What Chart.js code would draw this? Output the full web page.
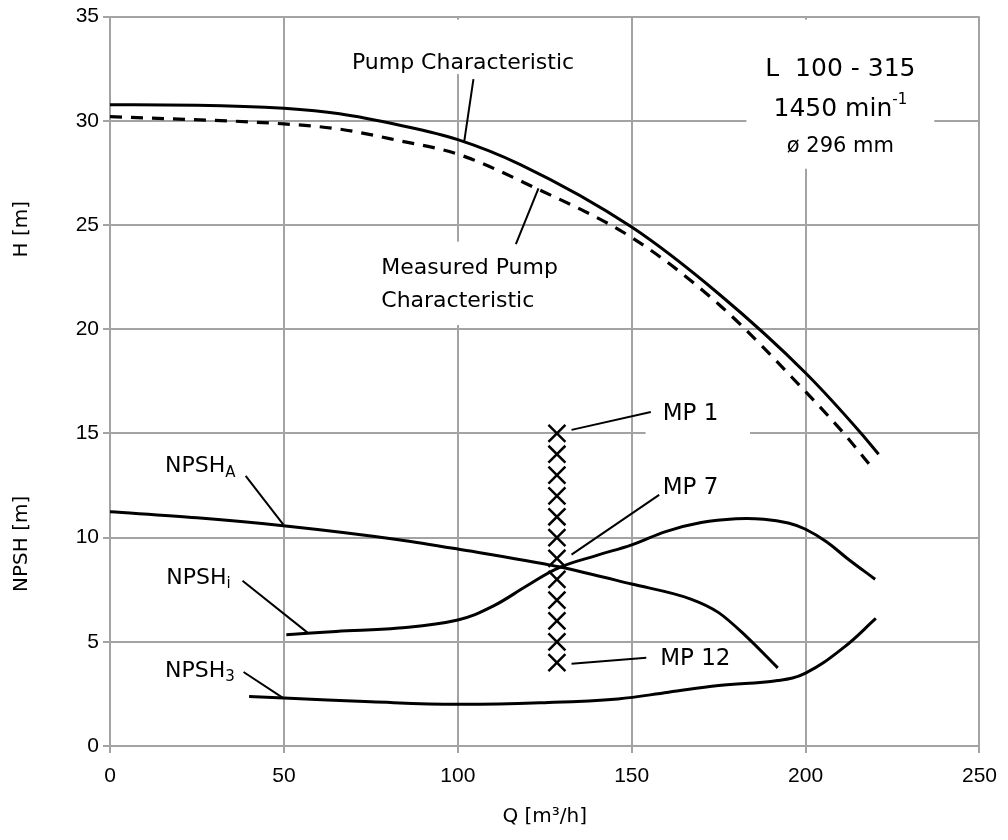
<!DOCTYPE html>
<html>
<head>
<meta charset="utf-8">
<script src="https://cdn.jsdelivr.net/npm/chart.js@4.4.1/dist/chart.umd.min.js"></script>
<style>
  html, body { margin: 0; padding: 0; background: #fff; }
  #wrap { width: 1008px; height: 840px; }
</style>
</head>
<body>
<div id="wrap"><canvas id="c" width="1008" height="840"></canvas></div>
<script>
// values, Q in m3/h, H in m
const qPump = [0, 25, 50, 66, 83, 100, 118, 150, 175, 200, 216, 221];
const hPump = [30.77, 30.75, 30.6, 30.34, 29.8, 29.1, 27.9, 24.9, 21.7, 17.9, 15.0, 14.0];

const qMeasured = [0, 50, 66, 83, 100, 122, 150, 175, 200, 211, 218.4];
const hMeasured = [30.2, 29.85, 29.6, 29.05, 28.4, 26.8, 24.4, 21.2, 17.0, 15.0, 13.5];

const qNpshA = [0, 25, 50.5, 83, 100, 129, 150, 167, 175, 183, 192];
const hNpshA = [11.24, 10.95, 10.56, 9.9, 9.45, 8.6, 7.77, 7.05, 6.4, 5.25, 3.75];

const qNpshI = [50.7, 65, 83, 100, 110, 120, 129, 140, 150, 160, 170, 180, 188, 195, 200, 206, 212, 220];
const hNpshI = [5.34, 5.5, 5.66, 6.05, 6.7, 7.7, 8.55, 9.15, 9.65, 10.3, 10.72, 10.9, 10.88, 10.7, 10.4, 9.8, 9.0, 8.0];

const qNpsh3 = [40, 50, 75, 100, 125, 146, 160.6, 175, 192, 200, 211, 220.2];
const hNpsh3 = [2.37, 2.3, 2.12, 2.0, 2.08, 2.26, 2.58, 2.9, 3.14, 3.5, 4.73, 6.12];

// measuring points MP 1 .. MP 12
const qMp = [128.5, 128.5, 128.5, 128.5, 128.5, 128.5, 128.5, 128.5, 128.5, 128.5, 128.5, 128.5];
const hMp = [15, 14, 13, 12, 11, 10, 9, 8, 7, 6, 5, 4];

const xTicks = [0, 50, 100, 150, 200, 250];
const yTicks = [0, 5, 10, 15, 20, 25, 30, 35];

const FONT = '"DejaVu Sans", "Open Sans", sans-serif';
const TICK_FONT = '"Liberation Sans", Arial, sans-serif';

function pts(xs, ys) {
  return xs.map((x, i) => ({ x: x, y: ys[i] }));
}

// annotation layout, in data units
const whiteBoxes = [
  [183, 34.85, 237, 27.7],
  [67, 34.85, 136, 32.24],
  [77, 24.2, 145, 20.2],
  [154, 16.8, 184, 14.7],
];

const leaders = [
  [104.5, 32.0, 101.8, 28.95],
  [123.2, 26.76, 116.7, 24.08],
  [39, 12.96, 49.9, 10.61],
  [38.1, 7.93, 56.8, 5.44],
  [38.4, 3.55, 49.6, 2.32],
  [155.5, 16.03, 132.7, 15.17],
  [157.9, 12.05, 132.7, 9.18],
  [154.2, 4.24, 132.7, 3.95],
];

const notes = [
  { q: 101.5, h: 32.75, align: 'center', parts: [['Pump Characteristic', 22, 0]] },
  { q: 78, h: 22.93, align: 'left', parts: [['Measured Pump', 22, 0]] },
  { q: 78, h: 21.35, align: 'left', parts: [['Characteristic', 22, 0]] },
  { q: 15.8, h: 13.4, align: 'left', parts: [['NPSH', 22, 0], ['A', 15, 6]] },
  { q: 16.2, h: 8.07, align: 'left', parts: [['NPSH', 22, 0], ['i', 15, 6]] },
  { q: 15.8, h: 3.6, align: 'left', parts: [['NPSH', 22, 0], ['3', 15, 6]] },
  { q: 158.9, h: 15.93, align: 'left', parts: [['MP 1', 23, 0]] },
  { q: 158.9, h: 12.38, align: 'left', parts: [['MP 7', 23, 0]] },
  { q: 158.2, h: 4.19, align: 'left', parts: [['MP 12', 23, 0]] },
  { q: 210, h: 32.46, align: 'center', parts: [['L  100 - 315', 25, 0]] },
  { q: 210, h: 30.55, align: 'center', parts: [['1450 min', 25, 0], ['-1', 15, -9]] },
  { q: 210, h: 28.78, align: 'center', parts: [['\u00f8 296 mm', 21, 0]] },
];

function drawParts(ctx, x, y, parts, align) {
  let w = 0;
  parts.forEach(p => { ctx.font = p[1] + 'px ' + FONT; w += ctx.measureText(p[0]).width; });
  let cx = align === 'center' ? x - w / 2 : x;
  parts.forEach(p => {
    ctx.font = p[1] + 'px ' + FONT;
    ctx.fillText(p[0], cx, y + p[2]);
    cx += ctx.measureText(p[0]).width;
  });
}

const annotationPlugin = {
  id: 'pumpNotes',
  beforeDatasetsDraw(chart) {
    const { ctx, scales: { x, y } } = chart;
    ctx.save();
    ctx.fillStyle = '#fff';
    whiteBoxes.forEach(b => {
      const x1 = x.getPixelForValue(b[0]), y1 = y.getPixelForValue(b[1]);
      const x2 = x.getPixelForValue(b[2]), y2 = y.getPixelForValue(b[3]);
      ctx.fillRect(x1, y1, x2 - x1, y2 - y1);
    });
    ctx.restore();
  },
  afterDatasetsDraw(chart) {
    const { ctx, scales: { x, y } } = chart;
    ctx.save();
    ctx.strokeStyle = '#000';
    ctx.lineWidth = 2;
    leaders.forEach(l => {
      ctx.beginPath();
      ctx.moveTo(x.getPixelForValue(l[0]), y.getPixelForValue(l[1]));
      ctx.lineTo(x.getPixelForValue(l[2]), y.getPixelForValue(l[3]));
      ctx.stroke();
    });
    ctx.fillStyle = '#000';
    ctx.textBaseline = 'middle';
    ctx.textAlign = 'left';
    notes.forEach(n => drawParts(ctx, x.getPixelForValue(n.q), y.getPixelForValue(n.h), n.parts, n.align));
    ctx.restore();
  },
  afterDraw(chart) {
    const { ctx, chartArea, scales: { y } } = chart;
    ctx.save();
    ctx.fillStyle = '#000';
    ctx.font = '20px ' + FONT;
    ctx.textAlign = 'center';
    ctx.textBaseline = 'middle';
    ctx.fillText('Q [m\u00b3/h]', (chartArea.left + chartArea.right) / 2, 817);
    [['H [m]', 24.8], ['NPSH [m]', 9.7]].forEach(t => {
      ctx.save();
      ctx.translate(22, y.getPixelForValue(t[1]));
      ctx.rotate(-Math.PI / 2);
      ctx.fillText(t[0], 0, 0);
      ctx.restore();
    });
    ctx.restore();
  },
};

const curve = (data, dash, width, smooth) => Object.assign({
  data: data,
  showLine: true,
  borderColor: '#000',
  borderWidth: width,
  borderDash: dash,
  pointRadius: 0,
  fill: false,
}, smooth === 'tension' ? { tension: 0.4 } : { cubicInterpolationMode: 'monotone' });

new Chart(document.getElementById('c'), {
  type: 'scatter',
  data: {
    datasets: [
      curve(pts(qPump, hPump), [], 3),
      curve(pts(qMeasured, hMeasured), [12, 9], 3.2),
      curve(pts(qNpshA, hNpshA), [], 3),
      curve(pts(qNpshI, hNpshI), [], 3, 'tension'),
      curve(pts(qNpsh3, hNpsh3), [], 3, 'tension'),
      {
        data: pts(qMp, hMp),
        showLine: false,
        pointStyle: 'crossRot',
        pointRadius: 12,
        pointBorderWidth: 2.5,
        borderColor: '#000',
        backgroundColor: '#000',
      },
    ],
  },
  options: {
    responsive: false,
    animation: false,
    devicePixelRatio: 1,
    layout: { padding: { left: 0, top: 16, right: 26, bottom: 0 } },
    plugins: { legend: { display: false }, tooltip: { enabled: false } },
    scales: {
      x: {
        type: 'linear',
        min: 0,
        max: 250,
        afterBuildTicks: s => { s.ticks = xTicks.map(v => ({ value: v })); },
        afterFit: s => { s.height = 94; },
        ticks: { color: '#000', font: { family: TICK_FONT, size: 21 }, padding: 11 },
        grid: { color: '#a3a3a3', lineWidth: 2, tickLength: 7 },
        border: { color: '#a3a3a3', width: 2 },
      },
      y: {
        type: 'linear',
        min: 0,
        max: 35,
        afterBuildTicks: s => { s.ticks = yTicks.map(v => ({ value: v })); },
        afterFit: s => { s.width = 110; },
        ticks: { color: '#000', font: { family: TICK_FONT, size: 21 }, padding: 4 },
        grid: { color: '#a3a3a3', lineWidth: 2, tickLength: 7 },
        border: { color: '#a3a3a3', width: 2 },
      },
    },
  },
  plugins: [annotationPlugin],
});
</script>
</body>
</html>
